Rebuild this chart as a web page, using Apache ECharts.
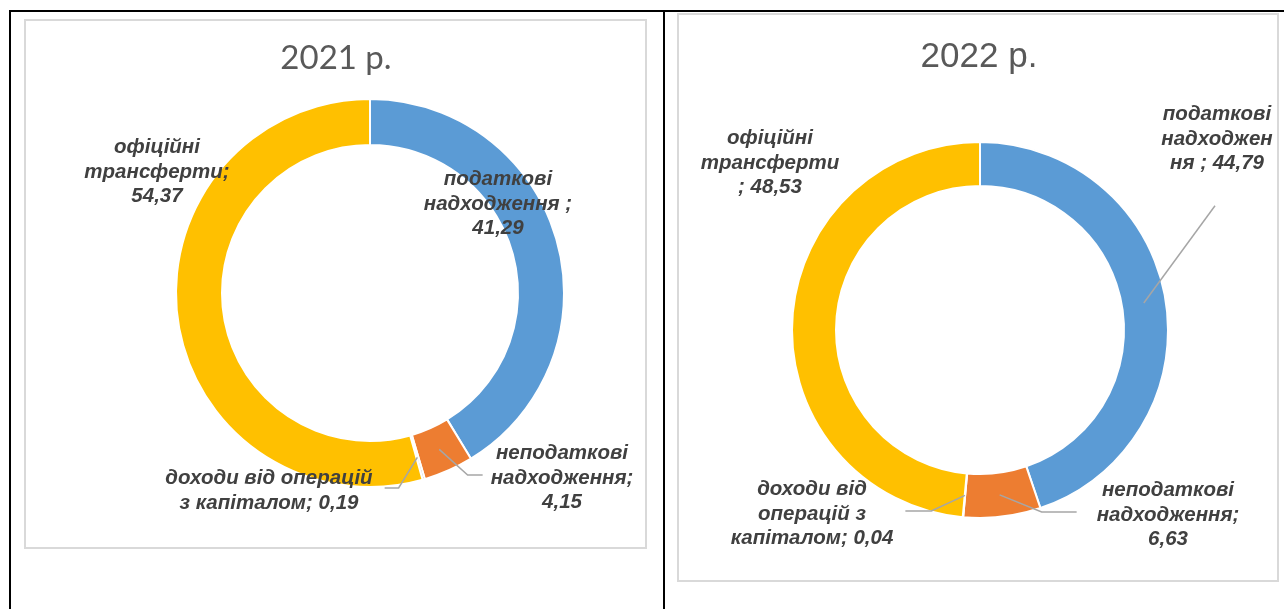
<!DOCTYPE html>
<html>
<head>
<meta charset="utf-8">
<script src="https://cdn.jsdelivr.net/npm/echarts@6/dist/echarts.min.js"></script>
<style>
html, body { margin: 0; padding: 0; background: #fff; }
#main { width: 1284px; height: 609px; }
</style>
</head>
<body>
<div id="main"></div>
<script>
// дані
var categories = ['податкові надходження', 'неподаткові надходження', 'доходи від операцій з капіталом', 'офіційні трансферти'];
var values2021 = [41.29, 4.15, 0.19, 54.37];
var values2022 = [44.79, 6.63, 0.04, 48.53];
var titles = ['2021 р.', '2022 р.'];
// підписи, перенесені як в оригіналі (значення додається в кінці)
var labelText2021 = ['податкові\nнадходження ;\n', 'неподаткові\nнадходження;\n', 'доходи від операцій\nз капіталом; ', 'офіційні\nтрансферти;\n'];
var labelText2022 = ['податкові\nнадходжен\nня ; ', 'неподаткові\nнадходження;\n', 'доходи від\nоперацій з\nкапіталом; ', 'офіційні\nтрансферти\n; '];
var colors = ['#5B9BD5', '#ED7D31', '#A5A5A5', '#FFC000'];

// розміщення кілець і підписів
var pies = [
    { center: [370, 293], radius: [148, 194] },
    { center: [980, 330], radius: [144, 188] }
];
var labelPos = [
    [{ x: 498, y: 204 }, { x: 562, y: 478, lead: 'right', gap: 8, len: 15 },
     { x: 269, y: 491, lead: 'left', gap: 12, len: 14 }, { x: 157, y: 172 }],
    [{ x: 1217, y: 139, lead: 'bottom', gap: 30 }, { x: 1168, y: 515, lead: 'right', gap: 20, len: 35 },
     { x: 812, y: 514, lead: 'left', gap: 12, len: 26 }, { x: 770, y: 163 }]
];

var myChart = echarts.init(document.getElementById('main'));

function fmt(v) { return v.toFixed(2).replace('.', ','); }

function layoutLabel(s, params) {
    var p = labelPos[s][params.dataIndex];
    var out = { x: p.x, y: p.y, align: 'center', verticalAlign: 'middle' };
    if (p.lead && params.labelLinePoints) {
        var c = pies[s].center, r = pies[s].radius;
        var k = (r[0] + r[1]) / 2 / r[1];
        var p0 = params.labelLinePoints[0];
        var a = [c[0] + (p0[0] - c[0]) * k, c[1] + (p0[1] - c[1]) * k];
        var w = params.labelRect.width, h = params.labelRect.height;
        var end, elbow;
        if (p.lead === 'right') {
            end = [p.x - w / 2 - p.gap, p.y - 3];
            elbow = [end[0] - p.len, end[1]];
        } else if (p.lead === 'left') {
            end = [p.x + w / 2 + p.gap, p.y - 3];
            elbow = [end[0] + p.len, end[1]];
        } else {
            end = [p.x - 2, p.y + h / 2 + p.gap];
            elbow = end;
        }
        out.labelLinePoints = [a, elbow, end];
    }
    return out;
}

// кільце (без підписів)
function ringSeries(idx, values) {
    return {
        type: 'pie',
        z: 2,
        center: pies[idx].center,
        radius: pies[idx].radius,
        startAngle: 90,
        clockwise: true,
        silent: true,
        itemStyle: { borderColor: '#fff', borderWidth: 2 },
        label: { show: false },
        labelLine: { show: false },
        data: values.map(function (v, i) {
            return { value: v, name: categories[i], itemStyle: { color: colors[i] } };
        })
    };
}

// прозора копія над кільцем: підписи та лінії виносок поверх секторів
function labelSeries(idx, values, texts) {
    return {
        type: 'pie',
        z: 3,
        center: pies[idx].center,
        radius: pies[idx].radius,
        startAngle: 90,
        clockwise: true,
        avoidLabelOverlap: false,
        silent: true,
        itemStyle: { color: 'rgba(0,0,0,0)', borderWidth: 0 },
        label: {
            show: true,
            position: 'outside',
            fontFamily: 'Liberation Sans',
            fontStyle: 'italic',
            fontWeight: 'bold',
            fontSize: 20.5,
            lineHeight: 24.5,
            color: '#404040',
            formatter: function (p) { return texts[p.dataIndex] + fmt(p.value); }
        },
        labelLine: { length: 10, length2: 10, lineStyle: { color: '#A6A6A6', width: 1.5 } },
        labelLayout: function (params) { return layoutLabel(idx, params); },
        data: values.map(function (v, i) {
            return { value: v, name: categories[i], labelLine: { show: !!labelPos[idx][i].lead } };
        })
    };
}

myChart.setOption({
    animation: false,
    title: [
        { text: titles[0], left: 336, top: 42, textAlign: 'center', padding: 0,
          textStyle: { fontFamily: 'Lato', fontWeight: 'normal', fontSize: 33, color: '#595959' } },
        { text: titles[1], left: 979, top: 40, textAlign: 'center', padding: 0,
          textStyle: { fontFamily: 'Liberation Sans', fontWeight: 'normal', fontSize: 35, color: '#595959' } }
    ],
    graphic: [
        { type: 'rect', shape: { x: 25, y: 20, width: 621, height: 528 }, style: { fill: 'none', stroke: '#D9D9D9', lineWidth: 2 }, z: -1 },
        { type: 'rect', shape: { x: 678, y: 14, width: 600, height: 567 }, style: { fill: 'none', stroke: '#D9D9D9', lineWidth: 2 }, z: -1 },
        { type: 'line', shape: { x1: 9, y1: 11, x2: 1284, y2: 11 }, style: { stroke: '#000', lineWidth: 2 } },
        { type: 'line', shape: { x1: 10, y1: 11, x2: 10, y2: 609 }, style: { stroke: '#000', lineWidth: 2 } },
        { type: 'line', shape: { x1: 664, y1: 11, x2: 664, y2: 609 }, style: { stroke: '#000', lineWidth: 2 } }
    ],
    series: [
        ringSeries(0, values2021),
        ringSeries(1, values2022),
        labelSeries(0, values2021, labelText2021),
        labelSeries(1, values2022, labelText2022)
    ]
});
</script>
</body>
</html>
